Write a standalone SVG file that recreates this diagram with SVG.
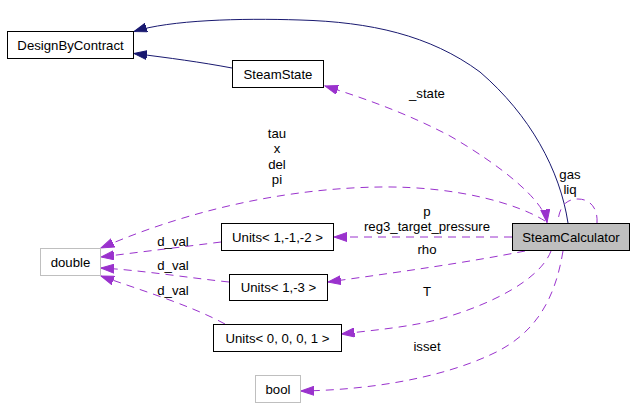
<svg xmlns="http://www.w3.org/2000/svg" width="635" height="407" viewBox="0 0 635 407">
<style>
text{font-family:"Liberation Sans",Arial,sans-serif;font-size:13.2px;fill:#000;text-anchor:middle}
.box{fill:#fff;stroke:#000;stroke-width:1}
.ext{fill:#fff;stroke:#bfbfbf;stroke-width:1}
.cur{fill:#bfbfbf;stroke:#000;stroke-width:1}
.inh{fill:none;stroke:#191970;stroke-width:1;marker-end:url(#navy)}
.use{fill:none;stroke:#9a32cd;stroke-width:1;stroke-dasharray:8,6;marker-end:url(#purple)}
.loop{fill:none;stroke:#9a32cd;stroke-width:1;stroke-dasharray:8,6}
</style>
<defs>
<marker id="navy" markerUnits="userSpaceOnUse" markerWidth="14" markerHeight="10" viewBox="0 -5 14 10" refX="13" refY="0" orient="auto"><path d="M0,-4.5 L13,0 L0,4.5 z" fill="#191970" stroke="#191970"/></marker>
<marker id="purple" markerUnits="userSpaceOnUse" markerWidth="14" markerHeight="10" viewBox="0 -5 14 10" refX="13" refY="0" orient="auto-start-reverse"><path d="M0,-4.5 L13,0 L0,4.5 z" fill="#9a32cd" stroke="#9a32cd"/></marker>
</defs>
<rect width="635" height="407" fill="#fff"/>
<g id="connectors">
<path class="inh" d="M568,223 C560,170 530,115 480,72 C430,35 370,22 300,20 C240,18 170,20 134,31.5"/>
<path class="inh" d="M232,68 C200,62 170,58 134,53.5"/>
<path class="use" style="marker-start:url(#purple)" d="M547,222.5 C544,200 500,165 450,136 C410,115 370,100 325,86"/>
<path class="use" d="M545,221 C520,205 460,186 380,187 C300,188 200,205 101,248"/>
<path class="loop" d="M597,223 C598,208 590,199 578,199 C566,199 559,207 558,222"/>
<path class="use" d="M512,237 L334,237"/>
<path class="use" d="M525,251 C470,262 400,272 328,282"/>
<path class="use" d="M551,251 C540,280 490,305 440,319 C410,327 375,330 341.5,334"/>
<path class="use" d="M563,251 C555,300 535,335 490,355 C440,378 370,390 301,391"/>
<path class="use" d="M221,242 C190,246 140,252 101,257"/>
<path class="use" d="M229,282 C190,278 140,270 101,268"/>
<path class="use" d="M225,324 C190,305 140,290 101,276"/>
<text x="427" y="98">_state</text>
<text x="277" y="138">tau</text>
<text x="277" y="153.3">x</text>
<text x="277" y="168.6">del</text>
<text x="277" y="184">pi</text>
<text x="570" y="179">gas</text>
<text x="570" y="194">liq</text>
<text x="427" y="216">p</text>
<text x="427" y="231">reg3_target_pressure</text>
<text x="427" y="254">rho</text>
<text x="427" y="295.5">T</text>
<text x="427" y="350.5">isset</text>
<text x="173" y="246">d_val</text>
<text x="173" y="270">d_val</text>
<text x="173" y="295">d_val</text>
</g>
<g id="DesignByContract"><rect class="box" x="7.5" y="31.5" width="126" height="27"/><text x="70.5" y="49.5">DesignByContract</text></g>
<g id="SteamState"><rect class="box" x="232.5" y="60.5" width="91" height="27"/><text x="278" y="78.5">SteamState</text></g>
<g id="SteamCalculator"><rect class="cur" x="512.5" y="223.5" width="117" height="27"/><text x="571" y="241.5">SteamCalculator</text></g>
<g id="Units_1_m1_m2"><rect class="box" x="221.5" y="223.5" width="112" height="27"/><text x="277.5" y="241.5">Units&lt; 1,-1,-2 &gt;</text></g>
<g id="Units_1_m3"><rect class="box" x="229.5" y="274.5" width="98" height="26"/><text x="278.5" y="292">Units&lt; 1,-3 &gt;</text></g>
<g id="Units_0_0_0_1"><rect class="box" x="213.5" y="324.5" width="128" height="27"/><text x="277.5" y="342.5">Units&lt; 0, 0, 0, 1 &gt;</text></g>
<g id="double"><rect class="ext" x="40.5" y="248.5" width="60" height="27"/><text x="70.5" y="266.5">double</text></g>
<g id="bool"><rect class="ext" x="255.5" y="375.5" width="45" height="27"/><text x="278" y="393.5">bool</text></g>
</svg>
